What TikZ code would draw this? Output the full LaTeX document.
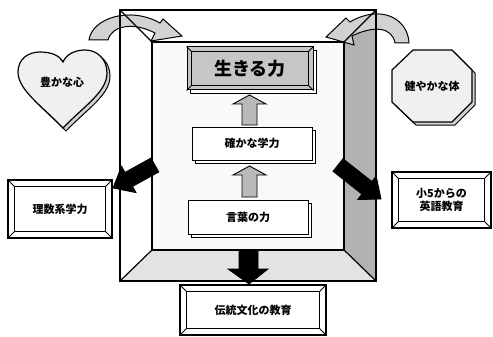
\documentclass[tikz,border=0pt]{standalone}
\usepackage{fontspec}
\setmainfont{Noto Sans CJK JP}
\usetikzlibrary{calc,shadows}
\tikzset{
  lbl/.style={font=\bfseries\fontsize{11}{13}\selectfont, align=center, inner sep=0pt},
  bevbox/.style={draw, line width=1.2pt, fill=white, inner sep=0pt, lbl},
  shbox/.style={draw, line width=1pt, fill=white, inner sep=0pt, lbl,
     copy shadow={shadow xshift=3.5pt, shadow yshift=-3.5pt, draw, fill=white, line width=0.8pt}},
  wall/.style={draw, line width=1.2pt},
  uparrow/.style={draw, line width=0.9pt, fill=gray!55},
  darkarrow/.style={draw, line width=0.8pt, fill=black},
  curvearrow/.style={draw, line width=1pt, fill=gray!35},
  shapeshadow/.style={draw, line width=1pt, fill=gray!35},
  shapebody/.style={draw, line width=1.2pt, fill=gray!12}
}
\newcommand\bevelin[2]{%
  \draw[line width=1pt] ($(#1.north west)+(#2,#2)$) rectangle ($(#1.south east)+(-#2,-#2)$);
  \draw[line width=0.8pt] (#1.north west) -- ($(#1.north west)+(#2,#2)$);
  \draw[line width=0.8pt] (#1.south east) -- ($(#1.south east)+(-#2,-#2)$);
  \draw[line width=0.8pt] (#1.north east) -- ($(#1.north east)+(-#2,#2)$);
  \draw[line width=0.8pt] (#1.south west) -- ($(#1.south west)+(#2,-#2)$);
}
\def\heartpath{(63,128) .. controls (42,106) and (18,90) .. (18,72) .. controls (18,59) and (28,52) .. (40,52) .. controls (52,52) and (60,56) .. (63,62) .. controls (66,55) and (74,50) .. (85,50) .. controls (98,50) and (107,60) .. (107,73) .. controls (107,92) and (84,106) .. (63,128) -- cycle}
\def\octpath{(413,50) -- (452,50) -- (472,70) -- (472,102) -- (452,122) -- (413,122) -- (392,102) -- (392,70) -- cycle}
\begin{document}
\begin{tikzpicture}[x=1pt,y=-1pt]
\useasboundingbox (0,0) rectangle (493,337);
% frame corners
\coordinate (o1) at (120,10);
\coordinate (o2) at (376,10);
\coordinate (o3) at (376,281);
\coordinate (o4) at (120,281);
\coordinate (i1) at (152,42);
\coordinate (i2) at (344,42);
\coordinate (i3) at (344,250);
\coordinate (i4) at (152,250);
% wall fills
\fill[white] (o1) -- (o2) -- (i2) -- (i1) -- cycle;
\fill[white] (o1) -- (i1) -- (i4) -- (o4) -- cycle;
\fill[gray!60] (o2) -- (o3) -- (i3) -- (i2) -- cycle;
\fill[gray!22] (o4) -- (o3) -- (i3) -- (i4) -- cycle;
\fill[gray!5] (i1) rectangle (i3);
% curved arrows
\draw[curvearrow] (89,40) .. controls (92,18) and (130,6) .. (160,23) -- (163,19) -- (182,36) -- (151,41) -- (155,33) .. controls (134,22) and (112,25) .. (108,40) -- cycle;
\draw[curvearrow] (409,43) .. controls (408,18) and (380,4) .. (350,22) -- (346,18) -- (326,37) -- (354,45) -- (352,36) .. controls (372,26) and (392,26) .. (395,43) -- cycle;
% frame lines
\draw[wall] (o1) rectangle (o3);
\draw[wall] (i1) rectangle (i3);
\draw[wall] (o1) -- (i1);
\draw[wall] (o2) -- (i2);
\draw[wall] (o3) -- (i3);
\draw[wall] (o4) -- (i4);
% heart
\begin{scope}[shift={(3,3)}]
\draw[shapeshadow] \heartpath;
\end{scope}
\draw[shapebody] \heartpath;
\node[lbl] (heart) at (62,82) {豊かな心};
% octagon
\begin{scope}[shift={(3,3)}]
\draw[shapeshadow] \octpath;
\end{scope}
\draw[shapebody] \octpath;
\node[lbl] (oct) at (432,86) {健やかな体};
% central boxes
\node[shbox, fill=gray!45, minimum width=126pt, minimum height=43pt, font=\bfseries\fontsize{18}{20}\selectfont] (ikiru) at (250,68.5) {生きる力};
\bevelin{ikiru}{5}
\node[shbox, minimum width=120pt, minimum height=33pt] (gakuryoku) at (252,143.5) {確かな学力};
\node[shbox, minimum width=120pt, minimum height=34pt] (kotoba) at (248,217) {言葉の力};
% up arrows
\coordinate (ua1) at (249.5,125);
\draw[uparrow] (242,125) -- (242,104) -- (233,104) -- (249.5,95) -- (266,104) -- (257,104) -- (257,125) -- cycle;
\draw[uparrow] (242,197) -- (242,175) -- (233,175) -- (249.5,166) -- (266,175) -- (257,175) -- (257,197) -- cycle;
% outer beveled boxes
\node[bevbox, minimum width=104pt, minimum height=58pt] (risu) at (60,209) {理数系学力};
\bevelin{risu}{7}
\node[bevbox, minimum width=99pt, minimum height=56pt] (eigo) at (441.5,200) {小5からの\\英語教育};
\bevelin{eigo}{7}
\node[bevbox, minimum width=146pt, minimum height=50pt] (dento) at (253,310) {伝統文化の教育};
\bevelin{dento}{7}
% dark arrows
\draw[darkarrow] (151,158) -- (125,172.4) -- (121.6,166.2) -- (113,188) -- (136,192.6) -- (132.6,186.4) -- (158.8,172) -- cycle;
\draw[darkarrow] (343,158.7) -- (371.9,181.5) -- (376.2,176) -- (381,199) -- (357.6,199.6) -- (361.9,194.1) -- (333,171.3) -- cycle;
\draw[darkarrow] (239,251) -- (239,269) -- (228,269) -- (249,284) -- (268,269) -- (258,269) -- (258,251) -- cycle;
\end{tikzpicture}
\end{document}
